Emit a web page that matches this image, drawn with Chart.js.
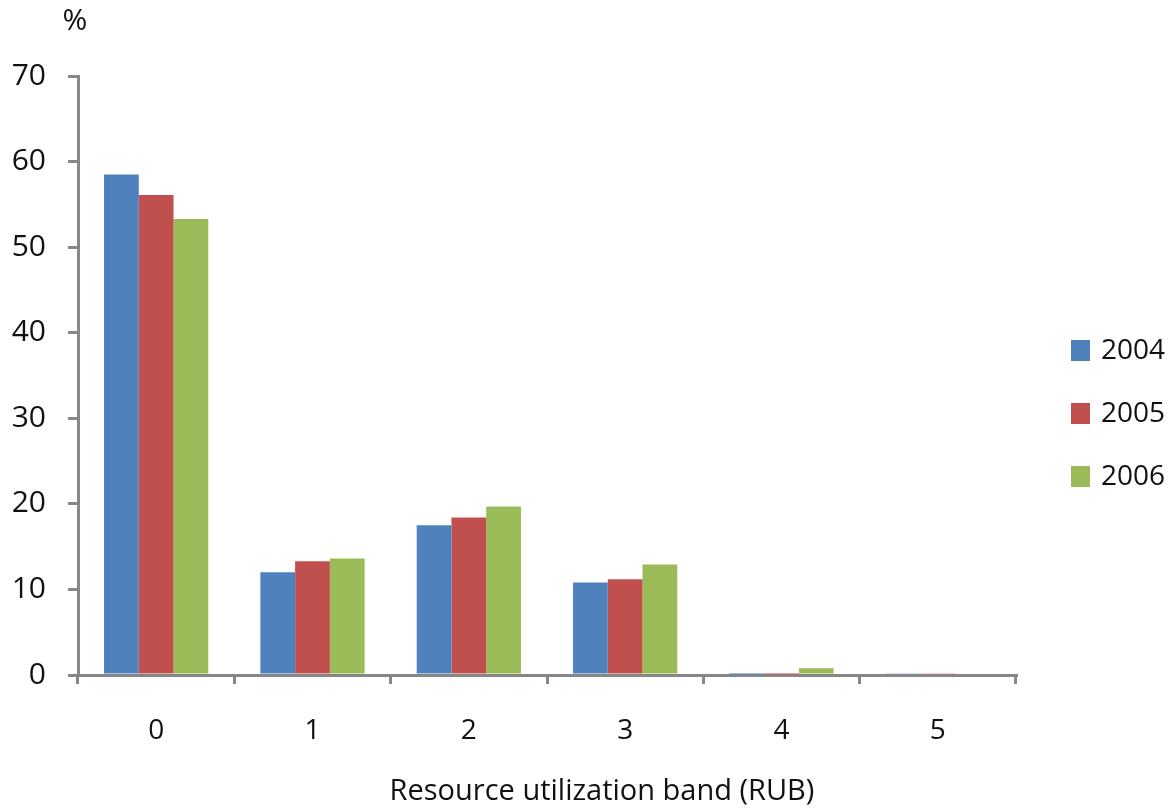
<!DOCTYPE html>
<html lang="en">
<head>
    <meta charset="UTF-8">
    <title>Resource utilization band</title>
    <script src="https://cdn.jsdelivr.net/npm/chart.js"></script>
    <style>
        body { margin: 0; background: #fff; }
        .wrap { width: 1174px; height: 810px; }
    </style>
</head>
<body>
    <div class="wrap"><canvas id="rubChart" width="1174" height="810"></canvas></div>

    <script>
        // Data (percent of population per band)
        const bands = ['0', '1', '2', '3', '4', '5'];
        const years = ['2004', '2005', '2006'];
        const pct2004 = [58.5, 12.0, 17.5, 10.8, 0.05, 0.15];
        const pct2005 = [56.1, 13.3, 18.4, 11.2, 0.05, 0.15];
        const pct2006 = [53.3, 13.6, 19.7, 12.9, 0.8, 0];
        const yTicks = [0, 10, 20, 30, 40, 50, 60, 70];
        const xTitle = 'Resource utilization band (RUB)';

        const colors = ['#4F81BD', '#C0504D', '#9BBB59'];
        const axisGrey = '#878787';
        const fontFamily = '"Open Sans", sans-serif';

        // Legend, "%" label and axis title drawn on the canvas
        const sideText = {
            id: 'sideText',
            afterDraw(chart) {
                const ctx = chart.ctx;
                ctx.save();
                ctx.fillStyle = '#111';
                ctx.textAlign = 'center';
                ctx.textBaseline = 'middle';
                ctx.font = '30px ' + fontFamily;
                ctx.fillText('%', 75, 21);

                ctx.font = '29px ' + fontFamily;
                ctx.textBaseline = 'alphabetic';
                ctx.fillText(xTitle, 602, 800);

                ctx.font = '28px ' + fontFamily;
                ctx.textAlign = 'left';
                ctx.textBaseline = 'middle';
                chart.data.datasets.forEach((ds, i) => {
                    const y = 350 + i * 63;
                    ctx.fillStyle = ds.backgroundColor;
                    ctx.fillRect(1071, y - 10, 19, 21);
                    ctx.fillStyle = '#111';
                    ctx.fillText(ds.label, 1101, y + 1);
                });
                ctx.restore();
            }
        };

        new Chart(document.getElementById('rubChart'), {
            type: 'bar',
            data: {
                labels: bands,
                datasets: [
                    { label: years[0], data: pct2004, backgroundColor: colors[0] },
                    { label: years[1], data: pct2005, backgroundColor: colors[1] },
                    { label: years[2], data: pct2006, backgroundColor: colors[2] }
                ]
            },
            options: {
                responsive: false,
                animation: false,
                layout: { padding: { top: 76, right: 158, left: 0, bottom: 0 } },
                datasets: {
                    bar: { categoryPercentage: 0.667, barPercentage: 1.0 }
                },
                plugins: {
                    legend: { display: false },
                    tooltip: { enabled: false }
                },
                scales: {
                    x: {
                        afterFit: s => { s.height = 135; },
                        grid: {
                            drawOnChartArea: false,
                            color: axisGrey,
                            lineWidth: 3,
                            tickLength: 9
                        },
                        border: { color: axisGrey, width: 3 },
                        ticks: {
                            color: '#111',
                            padding: 30,
                            font: { family: fontFamily, size: 28 }
                        }
                    },
                    y: {
                        min: 0,
                        max: 70,
                        afterFit: s => { s.width = 78; },
                        afterBuildTicks: s => { s.ticks = yTicks.map(v => ({ value: v })); },
                        grid: {
                            drawOnChartArea: false,
                            color: axisGrey,
                            lineWidth: 3,
                            tickLength: 10
                        },
                        border: { color: axisGrey, width: 3 },
                        ticks: {
                            color: '#111',
                            padding: 22,
                            font: { family: fontFamily, size: 30 }
                        }
                    }
                }
            },
            plugins: [sideText]
        });
    </script>
</body>
</html>
